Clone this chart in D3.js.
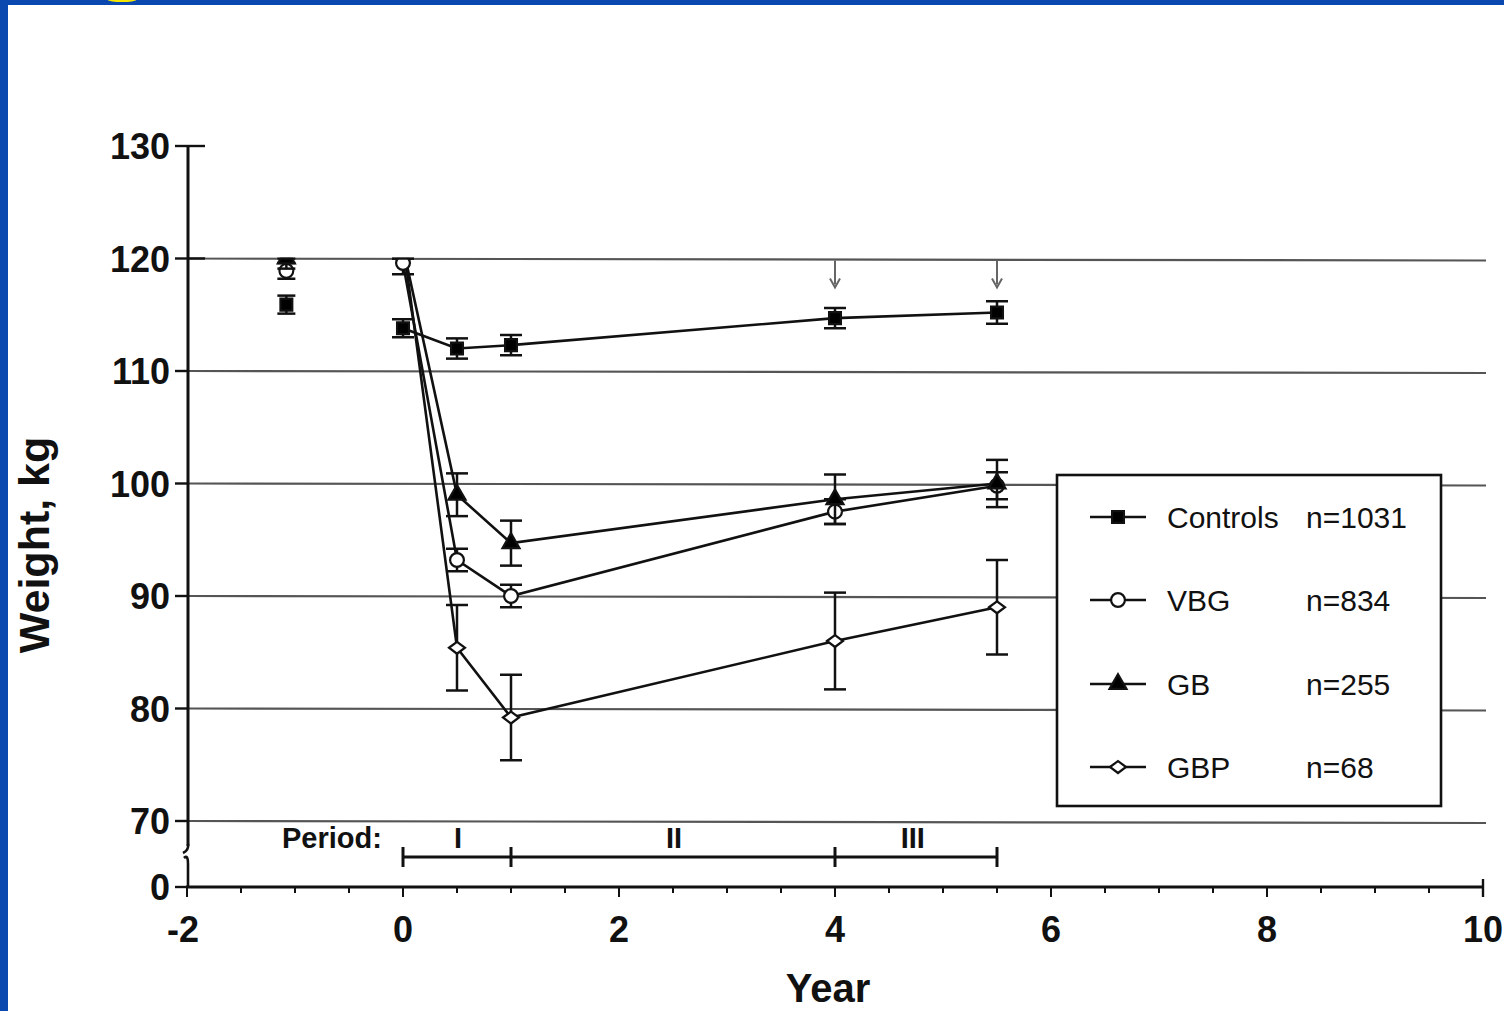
<!DOCTYPE html>
<html><head><meta charset="utf-8">
<script src="https://cdn.jsdelivr.net/npm/d3@7"></script>
<style>html,body{margin:0;padding:0;background:#fff;overflow:hidden}</style>
</head><body>
<svg id="c" width="1504" height="1011"></svg>
<script>
// ---------- data ----------
const years = [0, 0.5, 1, 4, 5.5];
const preYear = -1.08;
const seriesNames = ["Controls", "VBG", "GB", "GBP"];
const seriesN = ["n=1031", "n=834", "n=255", "n=68"];
const seriesSymbols = ["square", "circle", "triangle", "diamond"];
const controlsMean = [113.8, 112.0, 112.3, 114.7, 115.2];
const controlsErr  = [0.8, 0.9, 0.9, 0.9, 1.0];
const vbgMean = [119.6, 93.2, 90.0, 97.5, 99.8];
const vbgErr  = [1.0, 1.0, 1.0, 1.1, 1.2];
const gbMean  = [121.0, 99.0, 94.7, 98.6, 100.0];
const gbErr   = [1.0, 1.9, 2.0, 2.2, 2.1];
const gbpMean = [121.5, 85.4, 79.2, 86.0, 89.0];
const gbpErr  = [1.5, 3.8, 3.8, 4.3, 4.2];
const preMean = [115.9, 118.9, 120.0, 121.5];
const preErr  = [0.8, 0.7, 0.9, 1.5];
const yTicks = [70, 80, 90, 100, 110, 120, 130];
const xTicks = [-2, 0, 2, 4, 6, 8, 10];
const periodBounds = [0, 1, 4, 5.5];
const periodLabels = ["I", "II", "III"];
const arrowYears = [4, 5.5];

const means = [controlsMean, vbgMean, gbMean, gbpMean];
const errs = [controlsErr, vbgErr, gbErr, gbpErr];

// ---------- layout ----------
const svg = d3.select("#c");
const x = d3.scaleLinear().domain([-2, 10]).range([187, 1483]);
const y = d3.scaleLinear().domain([70, 130]).range([821, 146]);
const yZero = 887;
const axisX = 188;
const font = "'Liberation Sans', Arial, Helvetica, sans-serif";

svg.append("rect").attr("width", 1504).attr("height", 1011).attr("fill", "#fff");

// gridlines
svg.append("g").selectAll("line").data(yTicks.filter(v => v < 130)).join("line")
  .attr("x1", axisX).attr("x2", 1486)
  .attr("y1", d => y(d)).attr("y2", d => y(d) + 2)
  .attr("stroke", "#555").attr("stroke-width", 2.2);

// data group
const gData = svg.append("g");
const symPaths = {
  square: d3.symbol().type(d3.symbolSquare).size(140)(),
  circle: d3.symbol().type(d3.symbolCircle).size(150)(),
  triangle: d3.symbol().type(d3.symbolTriangle).size(125)(),
  diamond: "M-8,0L0,-6L8,0L0,6Z"
};
const fillMap = {square: "#000", circle: "#fff", triangle: "#000", diamond: "#fff"};

function drawErr(g, xv, m, e, capW) {
  g.append("line").attr("x1", x(xv)).attr("x2", x(xv)).attr("y1", y(m - e)).attr("y2", y(m + e))
    .attr("stroke", "#111").attr("stroke-width", 2.5);
  [m - e, m + e].forEach(v => g.append("line").attr("x1", x(xv) - capW/2).attr("x2", x(xv) + capW/2)
    .attr("y1", y(v)).attr("y2", y(v)).attr("stroke", "#111").attr("stroke-width", 2.5));
}
function drawSym(g, sym, cx, cy) {
  g.append("path").attr("d", symPaths[sym])
    .attr("transform", `translate(${cx},${cy})`)
    .attr("fill", fillMap[sym]).attr("stroke", "#111").attr("stroke-width", 2.2);
}

// pre-surgery points (not connected)
preMean.forEach((m, i) => {
  drawErr(gData, preYear, m, preErr[i], 18);
  drawSym(gData, seriesSymbols[i], x(preYear), y(m));
});

const line = d3.line().x(d => x(d[0])).y(d => y(d[1]));
[3, 1, 2, 0].forEach(i => {
  const pts = years.map((yr, j) => [yr, means[i][j]]);
  gData.append("path").attr("d", line(pts)).attr("fill", "none")
    .attr("stroke", "#111").attr("stroke-width", 2.6);
});
[3, 1, 2, 0].forEach(i => {
  years.forEach((yr, j) => {
    drawErr(gData, yr, means[i][j], errs[i][j], 22);
    drawSym(gData, seriesSymbols[i], x(yr), y(means[i][j]));
  });
});

// white cover above 120 (original figure crop)
svg.append("rect").attr("x", 206).attr("y", 0).attr("width", 1300).attr("height", y(120) - 1.2).attr("fill", "#fff");

// arrows
arrowYears.forEach(a => {
  const xx = x(a);
  svg.append("line").attr("x1", xx).attr("x2", xx).attr("y1", y(120) + 2).attr("y2", y(120) + 26)
    .attr("stroke", "#666").attr("stroke-width", 2);
  svg.append("path").attr("d", `M${xx-5},${y(120)+20} L${xx},${y(120)+29} L${xx+5},${y(120)+20}`)
    .attr("fill", "none").attr("stroke", "#666").attr("stroke-width", 2);
});

// y axis
svg.append("line").attr("x1", axisX).attr("x2", axisX).attr("y1", y(130)).attr("y2", 846)
  .attr("stroke", "#111").attr("stroke-width", 3);
svg.append("path").attr("d", `M${axisX},844 q1,6 -5,9`).attr("fill", "none").attr("stroke", "#111").attr("stroke-width", 2.6);
svg.append("path").attr("d", `M${axisX-4},858 q4,-4 4,6 L${axisX},${yZero}`).attr("fill", "none").attr("stroke", "#111").attr("stroke-width", 2.6);
svg.append("g").selectAll("line").data(yTicks).join("line")
  .attr("x1", 175).attr("x2", d => d >= 120 ? 205 : axisX)
  .attr("y1", d => y(d)).attr("y2", d => y(d))
  .attr("stroke", "#111").attr("stroke-width", 2.4);
svg.append("line").attr("x1", 175).attr("x2", axisX).attr("y1", yZero).attr("y2", yZero).attr("stroke", "#111").attr("stroke-width", 2.4);
svg.append("g").selectAll("text").data(yTicks).join("text")
  .attr("x", 170).attr("y", d => y(d) + 13).attr("text-anchor", "end")
  .attr("font-family", font).attr("font-weight", "bold").attr("font-size", 36).attr("fill", "#111")
  .text(d => d);
svg.append("text").attr("x", 170).attr("y", yZero + 13).attr("text-anchor", "end")
  .attr("font-family", font).attr("font-weight", "bold").attr("font-size", 36).attr("fill", "#111").text("0");

// x axis
svg.append("line").attr("x1", 186).attr("x2", 1484).attr("y1", yZero).attr("y2", yZero)
  .attr("stroke", "#111").attr("stroke-width", 3.2);
const minor = d3.range(-2, 10.01, 0.5);
svg.append("g").selectAll("line").data(minor).join("line")
  .attr("x1", d => x(d)).attr("x2", d => x(d))
  .attr("y1", yZero).attr("y2", d => (Math.abs(d % 2) < 1e-6) ? yZero + 10 : yZero + 6)
  .attr("stroke", "#111").attr("stroke-width", 2);
svg.append("line").attr("x1", x(10)).attr("x2", x(10)).attr("y1", yZero - 8).attr("y2", yZero + 10).attr("stroke", "#111").attr("stroke-width", 2.4);
svg.append("g").selectAll("text").data(xTicks).join("text")
  .attr("x", d => x(d) - (d < 0 ? 4 : 0)).attr("y", 942).attr("text-anchor", "middle")
  .attr("font-family", font).attr("font-weight", "bold").attr("font-size", 36).attr("fill", "#111")
  .text(d => d);

// axis titles
svg.append("text").attr("x", 828).attr("y", 1002).attr("text-anchor", "middle")
  .attr("font-family", font).attr("font-weight", "bold").attr("font-size", 40).attr("fill", "#111").text("Year");
svg.append("text").attr("transform", "translate(49,545) rotate(-90)").attr("text-anchor", "middle")
  .attr("font-family", font).attr("font-weight", "bold").attr("font-size", 43).attr("fill", "#111").text("Weight, kg");

// periods
const py = 857;
const labelFrac = [0.51, 0.503, 0.48];
svg.append("line").attr("x1", x(periodBounds[0])).attr("x2", x(periodBounds[periodBounds.length-1]))
  .attr("y1", py).attr("y2", py).attr("stroke", "#111").attr("stroke-width", 3);
svg.append("g").selectAll("line").data(periodBounds).join("line")
  .attr("x1", d => x(d)).attr("x2", d => x(d)).attr("y1", py - 10).attr("y2", py + 10)
  .attr("stroke", "#111").attr("stroke-width", 3);
svg.append("text").attr("x", 282).attr("y", 848).attr("font-family", font).attr("font-weight", "bold")
  .attr("font-size", 29).attr("fill", "#111").text("Period:");
svg.append("g").selectAll("text").data(periodLabels).join("text")
  .attr("x", (d, i) => x(periodBounds[i] + (periodBounds[i+1] - periodBounds[i]) * labelFrac[i]))
  .attr("y", 848).attr("text-anchor", "middle")
  .attr("font-family", font).attr("font-weight", "bold").attr("font-size", 29).attr("fill", "#111")
  .text(d => d);

// legend
svg.append("rect").attr("x", 1057).attr("y", 475).attr("width", 384).attr("height", 331)
  .attr("fill", "#fff").attr("stroke", "#111").attr("stroke-width", 2.6);
const rowY = [517, 600, 684, 767];
seriesNames.forEach((n, i) => {
  const ry = rowY[i];
  svg.append("line").attr("x1", 1090).attr("x2", 1146).attr("y1", ry).attr("y2", ry).attr("stroke", "#111").attr("stroke-width", 2.4);
  drawSym(svg, seriesSymbols[i], 1118, ry);
  svg.append("text").attr("x", 1167).attr("y", ry + 11).attr("font-family", font).attr("font-size", 30).attr("fill", "#111").text(n);
  svg.append("text").attr("x", 1306).attr("y", ry + 11).attr("font-family", font).attr("font-size", 30).attr("fill", "#111").text(seriesN[i]);
});

// slide frame (blue border)
svg.append("rect").attr("x", 0).attr("y", 0).attr("width", 1504).attr("height", 5).attr("fill", "#0A47AE");
svg.append("rect").attr("x", 0).attr("y", 0).attr("width", 8).attr("height", 1011).attr("fill", "#0A47AE");
svg.append("ellipse").attr("cx", 122).attr("cy", 0).attr("rx", 14).attr("ry", 2).attr("fill", "#f5e600");
</script>
</body></html>
